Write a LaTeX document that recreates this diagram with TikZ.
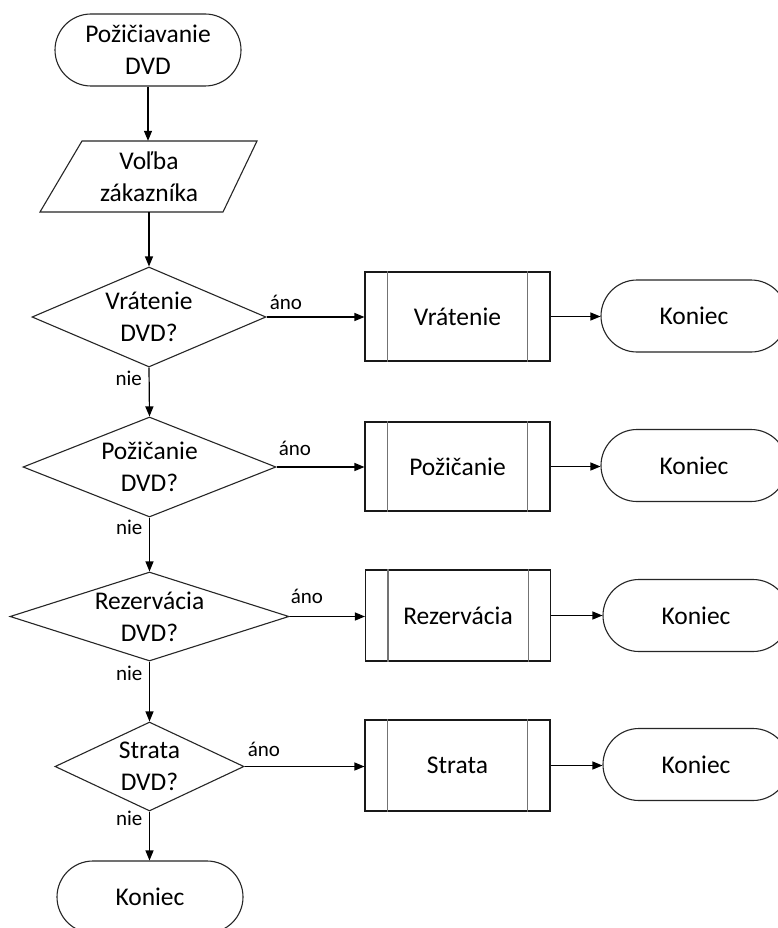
\documentclass[tikz,border=0pt]{standalone}
\usepackage{fontspec}
\setmainfont{Carlito}
\usetikzlibrary{shapes.geometric,shapes.misc,arrows.meta,calc}
\begin{document}
\begin{tikzpicture}[x=1pt,y=-1pt,
  txt/.style={font=\fontsize{25.5}{32}\selectfont,align=center,inner sep=0pt},
  lbl/.style={font=\fontsize{21}{25}\selectfont,inner sep=0pt},
  term/.style={rounded rectangle,draw=black!85,line width=1.1pt,minimum width=186pt,minimum height=72pt,inner sep=0pt,font=\fontsize{25.5}{32}\selectfont,align=center},
  dia/.style={diamond,draw=black!85,line width=1.1pt,inner sep=0pt},
  proc/.style={rectangle,draw=black!90,line width=1.1pt,minimum width=185pt,inner sep=0pt,font=\fontsize{25.5}{32}\selectfont},
  innerline/.style={draw=black!55,line width=1.1pt},
  arr/.style={-{Triangle[length=10pt,width=8pt]},line width=1.2pt,draw=black}
]
\clip (0,0) rectangle (778,928);
\fill[white] (0,0) rectangle (778,928);

% start
\node[term] (start) at (148,50) {Požičiavanie\\DVD};

% input parallelogram
\node[txt,minimum width=100pt,minimum height=71pt] (inp) at (149,176.5) {Voľba\\zákazníka};
\draw[draw=black!85,line width=1.1pt] ($(inp.center)+(-109,35.5)$) -- ($(inp.center)+(74,35.5)$) -- ($(inp.center)+(108,-35.5)$) -- ($(inp.center)+(-67,-35.5)$) -- cycle;

% decisions
\node[dia,minimum width=234pt,minimum height=100pt] (d1) at (149,317) {};
\node[txt] (d1t) at (d1) {Vrátenie\\DVD?};
\node[dia,minimum width=253pt,minimum height=100pt] (d2) at (149.5,467) {};
\node[txt] (d2t) at (d2) {Požičanie\\DVD?};
\node[dia,minimum width=279pt,minimum height=89pt] (d3) at (149.5,616.5) {};
\node[txt] (d3t) at (d3) {Rezervácia\\DVD?};
\node[dia,minimum width=189pt,minimum height=89pt] (d4) at (149.5,766.5) {};
\node[txt] (d4t) at (d4) {Strata\\DVD?};

% end bottom
\node[term] (e0) at (150,897) {Koniec};

% processes
\node[proc,minimum height=89pt] (p1) at (457.5,316.5) {Vrátenie};
\node[proc,minimum height=89pt] (p2) at (457.5,466.5) {Požičanie};
\node[proc,minimum height=91pt] (p3) at (458,615.5) {Rezervácia};
\node[proc,minimum height=91pt] (p4) at (457.5,765.5) {Strata};
\foreach \p in {p1,p2,p3,p4}{
  \draw[innerline] ($(\p.north west)+(23,0)$) -- ($(\p.south west)+(23,0)$);
  \draw[innerline] ($(\p.north east)+(-23,0)$) -- ($(\p.south east)+(-23,0)$);
}

% right terminals
\node[term] (t1) at (694,316) {Koniec};
\node[term] (t2) at (694,465.5) {Koniec};
\node[term] (t3) at (696,615.5) {Koniec};
\node[term] (t4) at (696,764.5) {Koniec};

% vertical flow
\draw[arr] (start.south) -- (start.south |- inp.north);
\draw[arr] (inp.south) -- (inp.south |- d1.north);
\draw[arr] (d1.south) -- (d2.north);
\draw[arr] (d2.south) -- (d3.north);
\draw[arr] (d3.south) -- (d4.north);
\draw[arr] (d4.south) -- (d4.south |- e0.north);

% yes branches
\draw[arr] (d1.east) -- (d1.east -| p1.west);
\draw[arr] (d2.east) -- (d2.east -| p2.west);
\draw[arr] (d3.east) -- (d3.east -| p3.west);
\draw[arr] (d4.east) -- (d4.east -| p4.west);
\draw[arr] (p1.east) -- (p1.east -| t1.west);
\draw[arr] (p2.east) -- (p2.east -| t2.west);
\draw[arr] (p3.east) -- (p3.east -| t3.west);
\draw[arr] (p4.east) -- (p4.east -| t4.west);

% labels
\node[lbl,anchor=west] (a1) at ($(d1.east)+(3,-15)$) {áno};
\node[lbl,anchor=west] (a2) at ($(d2.east)+(2,-19)$) {áno};
\node[lbl,anchor=west] (a3) at ($(d3.east)+(1,-20)$) {áno};
\node[lbl,anchor=west] (a4) at ($(d4.east)+(3,-17)$) {áno};
\node[lbl,anchor=east] (n1) at ($(d1.south)+(-7,11)$) {nie};
\node[lbl,anchor=east] (n2) at ($(d2.south)+(-7,10)$) {nie};
\node[lbl,anchor=east] (n3) at ($(d3.south)+(-7,12)$) {nie};
\node[lbl,anchor=east] (n4) at ($(d4.south)+(-7,7)$) {nie};
\end{tikzpicture}
\end{document}
